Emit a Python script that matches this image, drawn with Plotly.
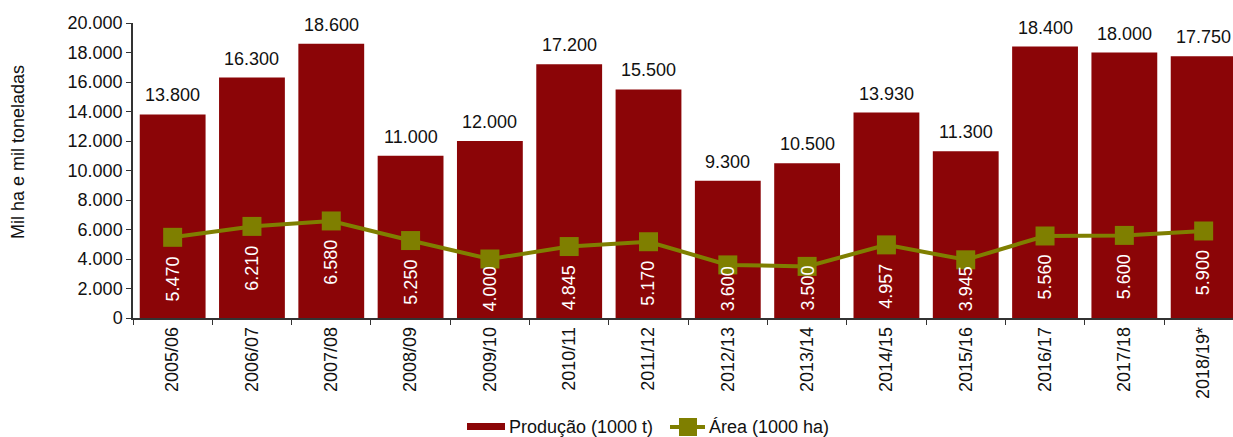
import plotly.graph_objects as go

# Safras e valores
safras = ["2005/06", "2006/07", "2007/08", "2008/09", "2009/10", "2010/11", "2011/12",
          "2012/13", "2013/14", "2014/15", "2015/16", "2016/17", "2017/18", "2018/19*"]
producao = [13800, 16300, 18600, 11000, 12000, 17200, 15500,
            9300, 10500, 13930, 11300, 18400, 18000, 17750]
area = [5470, 6210, 6580, 5250, 4000, 4845, 5170,
        3600, 3500, 4957, 3945, 5560, 5600, 5900]

BAR = "#8b0507"
OLIVE = "#7f7f00"
TXT = "#111111"
FONT = "Liberation Sans, Arial, sans-serif"

W, H = 1233, 437
ML, MR, MT, MB = 133, 0, 23, 119
PW, PH = W - ML - MR, H - MT - MB
YMAX = 20000


def fmt(v):
    return f"{v:,}".replace(",", ".")


def px(x):
    return (x - ML) / PW


def py(y):
    return (H - MB - y) / PH


fig = go.Figure()
fig.add_trace(go.Bar(
    x=safras, y=producao, name="Produção (1000 t)",
    marker=dict(color=BAR, line=dict(width=0)),
    width=0.83, showlegend=False,
))
fig.add_trace(go.Scatter(
    x=safras, y=area, name="Área (1000 ha)", mode="lines+markers",
    line=dict(color=OLIVE, width=4),
    marker=dict(symbol="square", size=19, color=OLIVE),
    showlegend=False,
))

annotations = []
for s, p in zip(safras, producao):
    annotations.append(dict(
        x=s, y=p, text=fmt(p), showarrow=False, yanchor="bottom", yshift=7,
        font=dict(family=FONT, size=18, color=TXT),
    ))

# area labels sit under each marker, but are kept inside the bar when too low
LABEL_LEN = 45
for s, a in zip(safras, area):
    y_px = a * PH / YMAX
    if y_px - 17 - LABEL_LEN < 5:
        annotations.append(dict(
            x=s, y=0, text=fmt(a), showarrow=False, textangle=-90,
            yanchor="bottom", yshift=5,
            font=dict(family=FONT, size=18, color="white"),
        ))
    else:
        annotations.append(dict(
            x=s, y=a, text=fmt(a), showarrow=False, textangle=-90,
            yanchor="top", yshift=-17,
            font=dict(family=FONT, size=18, color="white"),
        ))

annotations.append(dict(
    text="Mil ha e mil toneladas", xref="paper", yref="paper",
    x=px(18), y=py(152), xanchor="center", yanchor="middle",
    showarrow=False, textangle=-90,
    font=dict(family=FONT, size=18, color=TXT),
))

# legend
annotations.append(dict(
    text="Produção (1000 t)", xref="paper", yref="paper",
    x=px(507), y=py(427), xanchor="left", yanchor="middle", showarrow=False,
    font=dict(family=FONT, size=18, color=TXT),
))
annotations.append(dict(
    text="Área (1000 ha)", xref="paper", yref="paper",
    x=px(707), y=py(427), xanchor="left", yanchor="middle", showarrow=False,
    font=dict(family=FONT, size=18, color=TXT),
))
shapes = [
    dict(type="rect", xref="paper", yref="paper",
         x0=px(467), x1=px(505), y0=py(430), y1=py(423),
         fillcolor=BAR, line=dict(width=0)),
    dict(type="line", xref="paper", yref="paper",
         x0=px(670), x1=px(705), y0=py(427), y1=py(427),
         line=dict(color=OLIVE, width=4)),
    dict(type="rect", xref="paper", yref="paper",
         x0=px(679), x1=px(697), y0=py(436), y1=py(418),
         fillcolor=OLIVE, line=dict(width=0)),
]

fig.update_layout(
    width=W, height=H,
    margin=dict(l=ML, r=MR, t=MT, b=MB, autoexpand=False),
    paper_bgcolor="white", plot_bgcolor="white",
    separators=",.",
    showlegend=False,
    annotations=annotations,
    shapes=shapes,
    font=dict(family=FONT, size=18, color=TXT),
)
fig.update_xaxes(
    type="category", range=[-0.5, 13.37], automargin=False,
    showline=True, linecolor="#333333", linewidth=1.5,
    ticks="outside", ticklen=5, tickcolor="#333333", tickson="boundaries",
    tickangle=-90, tickfont=dict(family=FONT, size=18, color=TXT),
    showgrid=False,
)
fig.update_yaxes(
    range=[0, YMAX], dtick=2000, tickformat=",d", automargin=False,
    showline=True, linecolor="#333333", linewidth=1.5,
    ticks="outside", ticklen=5, tickcolor="#333333",
    tickfont=dict(family=FONT, size=18, color=TXT),
    showgrid=False, zeroline=False,
)

fig.write_html("out.html")
